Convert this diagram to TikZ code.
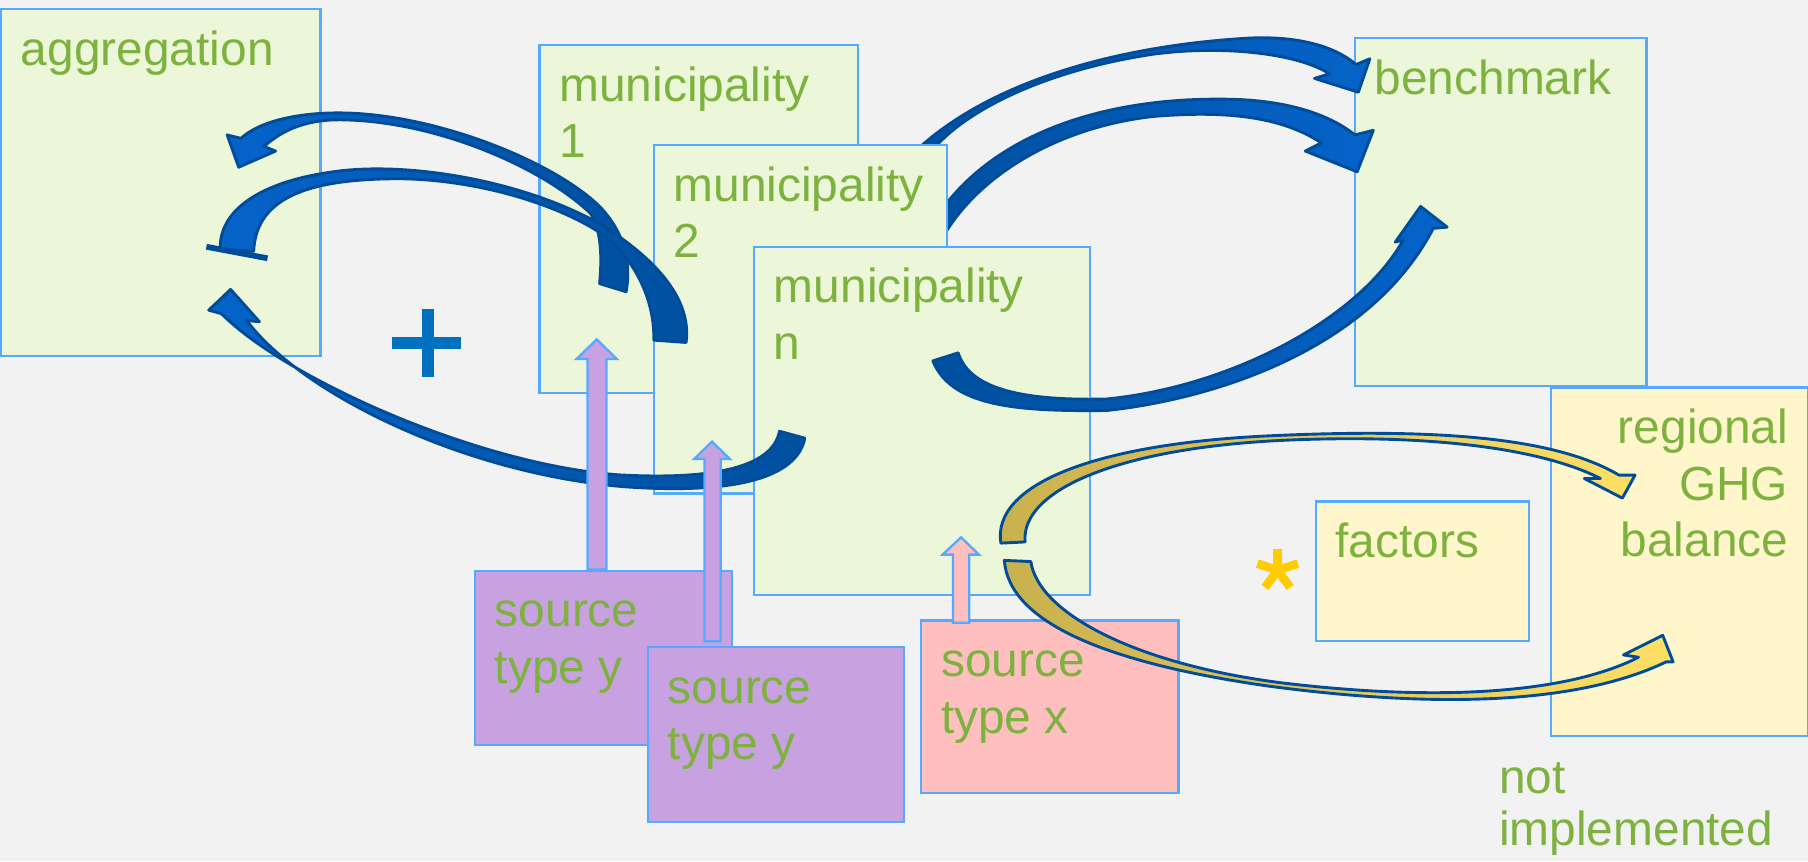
\documentclass[tikz,border=0pt]{standalone}
\usepackage{fontspec}
\setmainfont{Liberation Sans}
\definecolor{bgc}{HTML}{F2F2F2}
\definecolor{grn}{HTML}{ECF6D8}
\definecolor{ylw}{HTML}{FFF6CC}
\definecolor{bord}{HTML}{55AAFF}
\definecolor{txt}{HTML}{7EB23F}
\definecolor{purp}{HTML}{C8A2E0}
\definecolor{pnk}{HTML}{FFBFBF}
\definecolor{brb}{HTML}{0563C9}
\definecolor{dkb}{HTML}{00509F}
\definecolor{olb}{HTML}{004C99}
\definecolor{khk}{HTML}{C8B04E}
\definecolor{gld}{HTML}{FFE066}
\definecolor{plusc}{HTML}{0070C0}
\definecolor{starc}{HTML}{FFCC00}
\newcommand\ftop{\rule{0pt}{33.2pt}}
\begin{document}
\begin{tikzpicture}[x=1pt,y=-1pt,
  box/.style={draw=bord, line width=2pt, inner sep=0pt, anchor=north west},
  gbox/.style={box, fill=grn},
  ybox/.style={box, fill=ylw},
  pbox/.style={box, fill=purp},
  kbox/.style={box, fill=pnk},
  lbl/.style={text=txt, font=\fontsize{41.5}{49}\selectfont, inner sep=0pt, align=left, anchor=north west},
  barrow/.style={draw=olb, line width=2.5pt, line join=round},
  blockarrow/.style={draw=bord, line width=2pt, line join=miter},
]
\useasboundingbox (0,0) rectangle (1568,747);
\fill[bgc] (0,0) rectangle (1568,747);

% background boxes
\node[gbox, minimum width=277pt, minimum height=301pt] (agg) at (0,7) {};
\node[gbox, minimum width=253pt, minimum height=302pt] (bench) at (1174,32) {};
\node[ybox, minimum width=223pt, minimum height=302pt] (reg) at (1344,335) {};
\node[ybox, minimum width=185pt, minimum height=121pt] (fact) at (1140,434) {};

\node[lbl] (aggt) at ([xshift=18pt,yshift=-16.3pt]agg.north west) {\ftop aggregation};
\node[lbl] (bencht) at ([xshift=18pt,yshift=-16.3pt]bench.north west) {\ftop benchmark};
\node[lbl, align=right, anchor=north east] (regt) at ([xshift=-18pt,yshift=-16.3pt]reg.north east) {\ftop regional\\GHG\\balance};
\node[lbl] (factt) at ([xshift=18pt,yshift=-16.3pt]fact.north west) {\ftop factors};

% arrows to benchmark (behind municipality 2)
\path[barrow, left color=dkb, right color=brb]
 (790,135) .. controls (850,75) and (960,40) .. (1084,33)
 .. controls (1130,31) and (1160,42) .. (1176,56)
 -- (1188,51) -- (1178,80) -- (1140,68) -- (1153,64)
 .. controls (1125,46) and (1060,39) .. (1000,47)
 .. controls (900,62) and (830,100) .. (805,135) -- cycle;
\path[barrow, left color=dkb, right color=brb]
 (805,200) .. controls (850,120) and (950,85) .. (1060,86)
 .. controls (1110,86) and (1150,97) .. (1175,117)
 -- (1191,113) -- (1177,149) -- (1132,131) -- (1146,124)
 .. controls (1110,100) and (1060,96) .. (1000,101)
 .. controls (920,110) and (850,150) .. (818,205) -- cycle;

% municipality 1
\node[gbox, minimum width=276pt, minimum height=302pt] (m1) at (467,38) {};
\node[lbl] (m1t) at ([xshift=18pt,yshift=-16.3pt]m1.north west) {\ftop municipality\\1};
\path[barrow, left color=brb, right color=dkb]
 (543,253) .. controls (548,225) and (540,200) .. (520,179)
 .. controls (480,140) and (380,100) .. (300,98)
 .. controls (260,97) and (225,105) .. (209,120)
 -- (197,117) -- (207,145) -- (239,131) -- (229,127)
 .. controls (250,108) and (275,103) .. (300,104)
 .. controls (380,106) and (470,145) .. (512,185)
 .. controls (522,200) and (522,225) .. (520,246) -- cycle;

% municipality 2
\node[gbox, minimum width=254pt, minimum height=302pt] (m2) at (566,125) {};
\node[lbl] (m2t) at ([xshift=18pt,yshift=-16.3pt]m2.north west) {\ftop municipality\\2};
\path[barrow, left color=brb, right color=dkb]
 (595,297) .. controls (600,260) and (570,225) .. (520,194)
 .. controls (450,155) and (350,140) .. (289,149)
 .. controls (230,157) and (190,180) .. (191,216)
 -- (220,218)
 .. controls (222,170) and (270,155) .. (347,155)
 .. controls (420,156) and (490,180) .. (525,205)
 .. controls (550,225) and (568,260) .. (567,295) -- cycle;
\draw[olb, line width=5pt] (179,214) -- (232,224);

% municipality n
\node[gbox, minimum width=291pt, minimum height=302pt] (mn) at (653,213) {};
\node[lbl] (mnt) at ([xshift=18pt,yshift=-16.3pt]mn.north west) {\ftop municipality\\n};
\path[barrow, left color=brb, right color=dkb]
 (698,380) .. controls (690,420) and (620,428) .. (540,422)
 .. controls (400,410) and (260,340) .. (214,278)
 -- (225,279) -- (200,251) -- (181,269) -- (192,272)
 .. controls (250,330) and (420,405) .. (540,412)
 .. controls (620,416) and (670,405) .. (676,374) -- cycle;
\path[barrow, left color=dkb, right color=brb]
 (809,313) .. controls (825,352) and (880,357) .. (960,356)
 .. controls (1060,345) and (1190,300) .. (1243,198)
 -- (1255,197) -- (1232,179) -- (1210,210) -- (1217,208)
 .. controls (1180,275) and (1070,335) .. (960,346)
 .. controls (880,348) and (840,335) .. (831,306) -- cycle;

% plus sign
\fill[plusc] (340.2,292.3) rectangle (399.7,302.5);
\fill[plusc] (366.3,268.3) rectangle (376.7,326.7);

% sources
\node[pbox, minimum width=223pt, minimum height=151pt] (sy1) at (411,494) {};
\node[lbl] (sy1t) at ([xshift=18pt,yshift=-16.3pt]sy1.north west) {\ftop source\\type y};
\path[blockarrow, fill=purp] (509.5,494) -- (509.5,311.4) -- (500,311.4) -- (517.5,294.3) -- (535,311.4) -- (526,311.4) -- (526,494) -- cycle;
\path[blockarrow, fill=purp] (611,556) -- (611,398) -- (602,398) -- (617.5,383) -- (633,398) -- (625,398) -- (625,556) -- cycle;
\node[pbox, minimum width=222pt, minimum height=152pt] (sy2) at (561,560) {};
\node[lbl] (sy2t) at ([xshift=18pt,yshift=-16.3pt]sy2.north west) {\ftop source\\type y};
\node[kbox, minimum width=223pt, minimum height=150pt] (sx) at (798,537) {};
\node[lbl] (sxt) at ([xshift=18pt,yshift=-16.3pt]sx.north west) {\ftop source\\type x};
\path[blockarrow, fill=pnk] (826.5,540) -- (826.5,481) -- (817.5,481) -- (833.5,466) -- (849,481) -- (840.5,481) -- (840.5,540) -- cycle;

% yellow arrows to regional balance
\path[barrow, left color=khk, right color=gld]
 (868,471) .. controls (860,420) and (950,385) .. (1100,378)
 .. controls (1250,371) and (1350,380) .. (1404,412)
 -- (1418,412) -- (1407,432) -- (1374,415) -- (1388,415)
 .. controls (1335,388) and (1235,376) .. (1110,382)
 .. controls (970,389) and (885,425) .. (889,470) -- cycle;
\path[barrow, left color=khk, right color=gld]
 (871,486) .. controls (875,540) and (960,575) .. (1100,595)
 .. controls (1250,615) and (1370,610) .. (1445,574)
 -- (1451,574) -- (1442,551) -- (1408,568) -- (1421,570)
 .. controls (1360,601) and (1250,609) .. (1110,592)
 .. controls (980,575) and (900,530) .. (894,487) -- cycle;

% asterisk
\coordinate (st) at (1108,494.5);
\foreach \a in {270,342,54,126,198} \draw[starc, line width=7.5pt] (st) -- ++(\a:18.5);

% note
\node[lbl, font=\fontsize{41.5}{45}\selectfont] (note) at (1300,654.8) {\ftop not\\implemented};
\end{tikzpicture}
\end{document}
